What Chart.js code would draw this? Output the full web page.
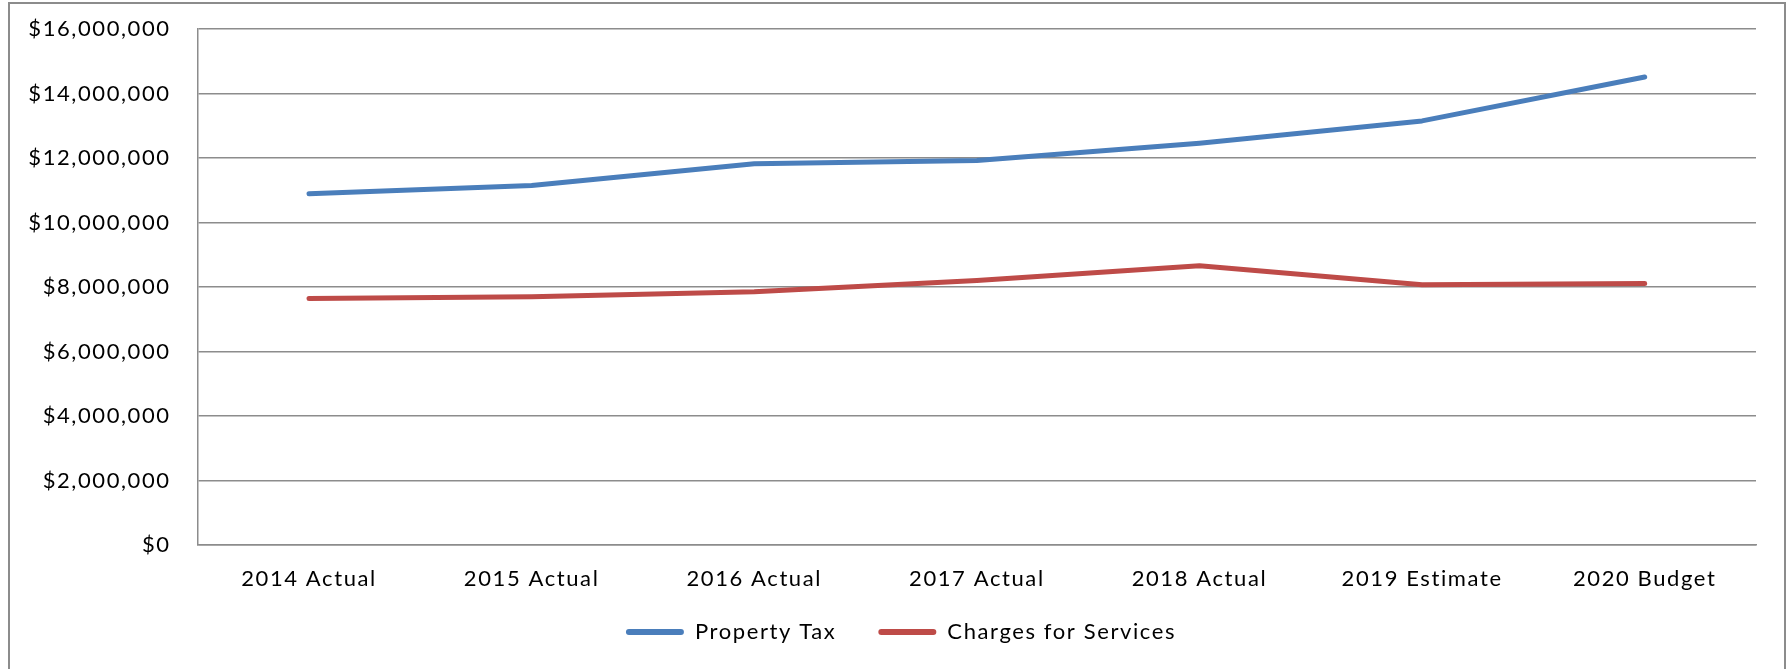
<!DOCTYPE html>
<html>
<head>
<meta charset="utf-8">
<title>Property Tax and Charges for Services</title>
<script src="https://cdn.jsdelivr.net/npm/chart.js@4.4.0/dist/chart.umd.min.js"></script>
<style>
  html, body { margin: 0; padding: 0; background: #ffffff; }
  #wrap { width: 1792px; height: 669px; }
  canvas { display: block; }
</style>
</head>
<body>
<div id="wrap"><canvas id="revenueChart" width="1792" height="669"></canvas></div>
<script>
// Fiscal years shown along the x axis
const categories = ['2014 Actual', '2015 Actual', '2016 Actual', '2017 Actual', '2018 Actual', '2019 Estimate', '2020 Budget'];

// Revenue by source, in dollars
const propertyTax        = [10890000, 11150000, 11820000, 11920000, 12460000, 13150000, 14510000];
const chargesForServices = [7640000, 7700000, 7850000, 8200000, 8660000, 8070000, 8110000];

// Value axis ticks
const yTicks = [0, 2000000, 4000000, 6000000, 8000000, 10000000, 12000000, 14000000, 16000000];

const FONT = 'Lato, "Open Sans", sans-serif';
const TEXT_SPACING = '1.6px';
const GRID = '#8c8c8c';
const INK = '#000000';

// Slightly tracked-out lettering for every canvas text
const textSpacing = {
  id: 'textSpacing',
  beforeUpdate(chart) { chart.ctx.letterSpacing = TEXT_SPACING; },
  beforeDraw(chart) { chart.ctx.letterSpacing = TEXT_SPACING; }
};

// White background with the outer frame around the whole chart
const chartFrame = {
  id: 'chartFrame',
  beforeDraw(chart) {
    const ctx = chart.ctx;
    ctx.save();
    ctx.fillStyle = '#ffffff';
    ctx.fillRect(0, 0, chart.width, chart.height);
    ctx.strokeStyle = GRID;
    ctx.lineWidth = 2;
    ctx.strokeRect(9, 3, 1776, chart.height + 20);
    ctx.restore();
  }
};

// Legend row sits a little right of the canvas centre, at a fixed height
const legendPlacement = {
  id: 'legendPlacement',
  afterLayout(chart) {
    const lg = chart.legend;
    if (!lg) return;
    const h = lg.bottom - lg.top;
    lg.left += 23;
    lg.right += 23;
    lg.top = 579;
    lg.bottom = 579 + h;
  }
};

const fmtDollars = v => '$' + Number(v).toLocaleString('en-US');

new Chart(document.getElementById('revenueChart'), {
  type: 'line',
  data: {
    labels: categories,
    datasets: [
      {
        label: 'Property Tax',
        data: propertyTax,
        borderColor: '#4A7EBB',
        backgroundColor: '#4A7EBB',
        borderWidth: 5,
        borderCapStyle: 'round',
        borderJoinStyle: 'round',
        pointRadius: 0,
        tension: 0
      },
      {
        label: 'Charges for Services',
        data: chargesForServices,
        borderColor: '#BE4B48',
        backgroundColor: '#BE4B48',
        borderWidth: 5,
        borderCapStyle: 'round',
        borderJoinStyle: 'round',
        pointRadius: 0,
        tension: 0
      }
    ]
  },
  options: {
    responsive: false,
    animation: false,
    devicePixelRatio: 1,
    layout: { padding: { left: 0, right: 36, top: 29, bottom: 0 } },
    plugins: {
      tooltip: { enabled: false },
      legend: {
        position: 'bottom',
        align: 'center',
        labels: {
          color: INK,
          font: { family: FONT, size: 22 },
          boxWidth: 58,
          boxHeight: 6,
          useBorderRadius: true,
          borderRadius: 3,
          padding: 42,
          generateLabels(chart) {
            return Chart.defaults.plugins.legend.labels.generateLabels(chart)
              .map(item => Object.assign(item, { lineWidth: 0 }));
          }
        }
      }
    },
    scales: {
      x: {
        type: 'category',
        offset: true,
        grid: { display: false, drawTicks: false },
        border: { display: true, color: GRID, width: 1.5 },
        ticks: {
          color: INK,
          font: { family: FONT, size: 22 },
          padding: 21,
          maxRotation: 0,
          autoSkip: false
        },
        afterFit(scale) { scale.height = 50; }
      },
      y: {
        min: 0,
        max: 16000000,
        grid: { color: GRID, lineWidth: 1.5, drawTicks: false },
        border: { display: true, color: GRID, width: 1.5 },
        ticks: {
          color: INK,
          font: { family: FONT, size: 22 },
          padding: 27,
          callback: fmtDollars
        },
        afterBuildTicks(scale) { scale.ticks = yTicks.map(v => ({ value: v })); },
        afterFit(scale) {
          scale.width = 197.7;
          scale.paddingTop = 0;
          scale.paddingBottom = 0;
        }
      }
    }
  },
  plugins: [textSpacing, chartFrame, legendPlacement]
});
</script>
</body>
</html>
